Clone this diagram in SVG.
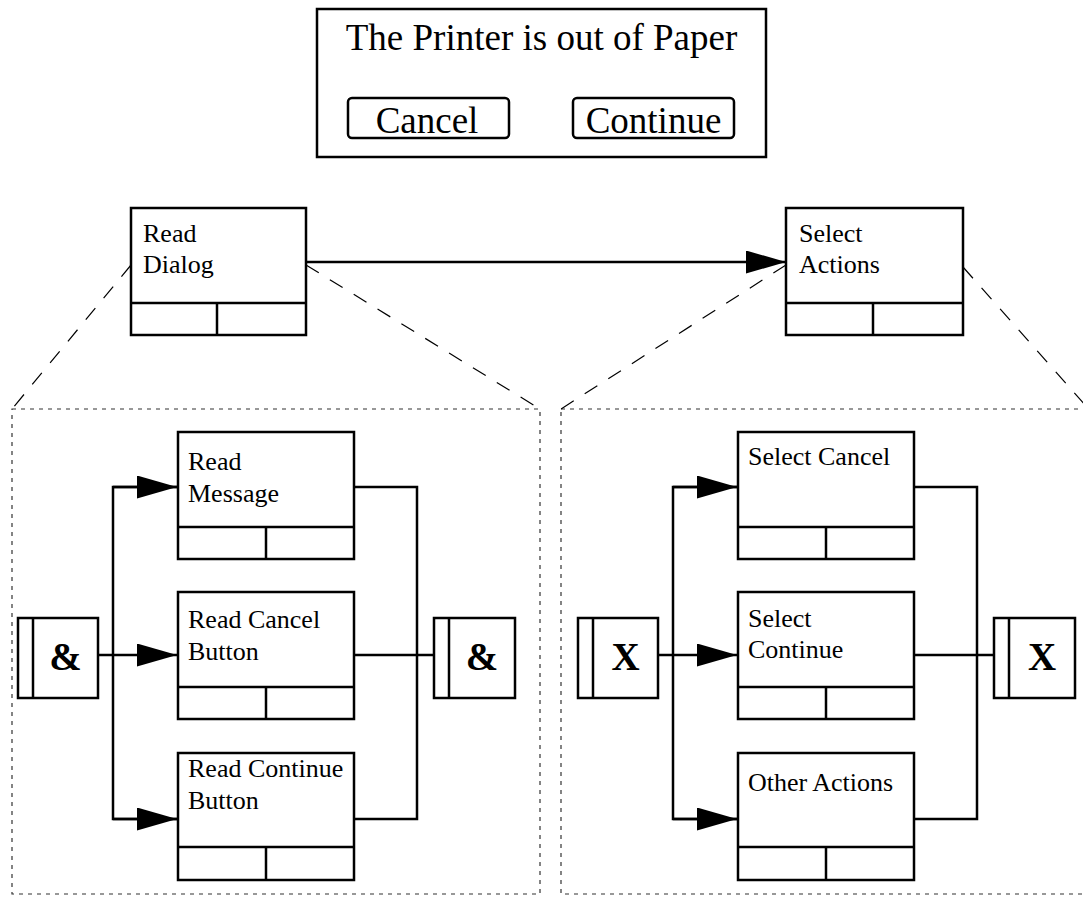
<svg xmlns="http://www.w3.org/2000/svg" width="1083" height="903" viewBox="0 0 1083 903">
<style>
.box{fill:#fff;stroke:#000;stroke-width:2.5}
.ln{fill:none;stroke:#000;stroke-width:2.5}
.lbl{font-family:"Liberation Serif","Times New Roman",serif;font-size:26px;fill:#000}
.big{font-family:"Liberation Serif","Times New Roman",serif;font-size:37px;fill:#000}
.jn{font-family:"Liberation Serif","Times New Roman",serif;font-size:39px;font-weight:bold;fill:#000}
.zoom{fill:none;stroke:#000;stroke-width:1.2;stroke-dasharray:15 13}
.region{fill:none;stroke:#333;stroke-width:1.2;stroke-dasharray:4 5}
</style>
<defs>
<marker id="arr" viewBox="0 0 40 23" refX="40" refY="11.5" markerWidth="40" markerHeight="23" markerUnits="userSpaceOnUse" orient="auto">
<path d="M0,0 L40,11.5 L0,23 Z" fill="#000"/>
</marker>
</defs>
<rect width="1083" height="903" fill="#fff"/>

<g id="dialog">
<rect x="317" y="9" width="449" height="148" fill="#fff" stroke="#000" stroke-width="2.5"/>
<text class="big" x="541.5" y="50" text-anchor="middle">The Printer is out of Paper</text>
<rect x="348" y="98" width="161" height="40" rx="4" fill="#fff" stroke="#000" stroke-width="2.5"/>
<text class="big" x="427" y="133" text-anchor="middle">Cancel</text>
<rect x="573" y="98" width="161" height="40" rx="4" fill="#fff" stroke="#000" stroke-width="2.5"/>
<text class="big" x="653.5" y="133" text-anchor="middle">Continue</text>
</g>

<g id="regions">
<rect class="region" x="12" y="409" width="528" height="485"/>
<rect class="region" x="561" y="409" width="540" height="485"/>
</g>

<g id="connectors">
<line class="zoom" x1="131" y1="265" x2="12" y2="409"/>
<line class="zoom" x1="306" y1="265" x2="540" y2="409"/>
<line class="zoom" x1="786" y1="265" x2="561" y2="409"/>
<line class="zoom" x1="963" y1="267" x2="1086" y2="406"/>
<line class="ln" x1="306" y1="262" x2="786" y2="262" marker-end="url(#arr)"/>
<!-- left region -->
<line class="ln" x1="98" y1="655" x2="177" y2="655" marker-end="url(#arr)"/>
<polyline class="ln" points="177,487 113,487 113,819 177,819"/>
<line class="ln" x1="113" y1="487" x2="177" y2="487" marker-end="url(#arr)"/>
<line class="ln" x1="113" y1="819" x2="177" y2="819" marker-end="url(#arr)"/>
<polyline class="ln" points="354,487 417,487 417,819 354,819"/>
<line class="ln" x1="354" y1="655" x2="434" y2="655"/>
<!-- right region -->
<line class="ln" x1="658" y1="655" x2="737" y2="655" marker-end="url(#arr)"/>
<polyline class="ln" points="737,487 673,487 673,819 737,819"/>
<line class="ln" x1="673" y1="487" x2="737" y2="487" marker-end="url(#arr)"/>
<line class="ln" x1="673" y1="819" x2="737" y2="819" marker-end="url(#arr)"/>
<polyline class="ln" points="914,487 977,487 977,819 914,819"/>
<line class="ln" x1="914" y1="655" x2="994" y2="655"/>
</g>

<g id="read-dialog">
<rect class="box" x="131" y="208" width="175" height="127"/>
<line class="ln" x1="131" y1="303" x2="306" y2="303"/>
<line class="ln" x1="217" y1="303" x2="217" y2="335"/>
<text class="lbl" x="143" y="242">Read</text>
<text class="lbl" x="143" y="273">Dialog</text>
</g>

<g id="select-actions">
<rect class="box" x="786" y="208" width="177" height="127"/>
<line class="ln" x1="786" y1="303" x2="963" y2="303"/>
<line class="ln" x1="873" y1="303" x2="873" y2="335"/>
<text class="lbl" x="799" y="242">Select</text>
<text class="lbl" x="799" y="273">Actions</text>
</g>

<g id="and-split">
<rect class="box" x="18" y="618" width="80" height="80"/>
<line class="ln" x1="33" y1="618" x2="33" y2="698"/>
<text class="jn" x="65.5" y="670" text-anchor="middle">&amp;</text>
</g>

<g id="read-message">
<rect class="box" x="178" y="432" width="176" height="127"/>
<line class="ln" x1="178" y1="527" x2="354" y2="527"/>
<line class="ln" x1="266" y1="527" x2="266" y2="559"/>
<text class="lbl" x="188" y="470">Read</text>
<text class="lbl" x="188" y="502">Message</text>
</g>

<g id="read-cancel-button">
<rect class="box" x="178" y="592" width="176" height="127"/>
<line class="ln" x1="178" y1="687" x2="354" y2="687"/>
<line class="ln" x1="266" y1="687" x2="266" y2="719"/>
<text class="lbl" x="188" y="628">Read Cancel</text>
<text class="lbl" x="188" y="660">Button</text>
</g>

<g id="read-continue-button">
<rect class="box" x="178" y="753" width="176" height="127"/>
<line class="ln" x1="178" y1="847" x2="354" y2="847"/>
<line class="ln" x1="266" y1="847" x2="266" y2="880"/>
<text class="lbl" x="188" y="777">Read Continue</text>
<text class="lbl" x="188" y="809">Button</text>
</g>

<g id="and-join">
<rect class="box" x="434" y="618" width="81" height="80"/>
<line class="ln" x1="449" y1="618" x2="449" y2="698"/>
<text class="jn" x="482" y="670" text-anchor="middle">&amp;</text>
</g>

<g id="xor-split">
<rect class="box" x="578" y="618" width="80" height="80"/>
<line class="ln" x1="593" y1="618" x2="593" y2="698"/>
<text class="jn" x="625.5" y="670" text-anchor="middle">X</text>
</g>

<g id="select-cancel">
<rect class="box" x="738" y="432" width="176" height="127"/>
<line class="ln" x1="738" y1="527" x2="914" y2="527"/>
<line class="ln" x1="826" y1="527" x2="826" y2="559"/>
<text class="lbl" x="748" y="465">Select Cancel</text>
</g>

<g id="select-continue">
<rect class="box" x="738" y="592" width="176" height="127"/>
<line class="ln" x1="738" y1="687" x2="914" y2="687"/>
<line class="ln" x1="826" y1="687" x2="826" y2="719"/>
<text class="lbl" x="748" y="627">Select</text>
<text class="lbl" x="748" y="658">Continue</text>
</g>

<g id="other-actions">
<rect class="box" x="738" y="753" width="176" height="127"/>
<line class="ln" x1="738" y1="847" x2="914" y2="847"/>
<line class="ln" x1="826" y1="847" x2="826" y2="880"/>
<text class="lbl" x="748" y="791">Other Actions</text>
</g>

<g id="xor-join">
<rect class="box" x="994" y="618" width="81" height="80"/>
<line class="ln" x1="1009" y1="618" x2="1009" y2="698"/>
<text class="jn" x="1042" y="670" text-anchor="middle">X</text>
</g>
</svg>
